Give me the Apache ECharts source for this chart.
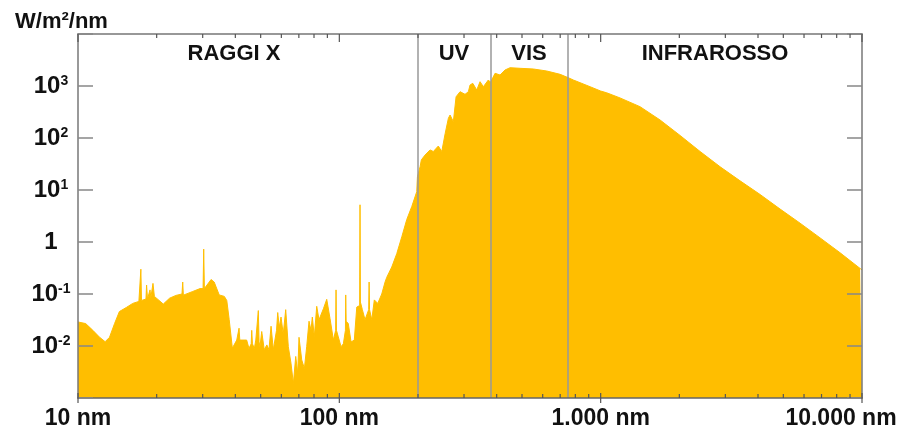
<!DOCTYPE html>
<html>
<head>
<meta charset="utf-8">
<script src="https://cdn.jsdelivr.net/npm/echarts@6/dist/echarts.min.js"></script>
<style>
  html, body { margin: 0; padding: 0; background: #fff; }
  #chart { width: 905px; height: 433px; }
</style>
</head>
<body>
<div id="chart"></div>
<script>
// spettro solare (nm, W/m2/nm)
// raggi X / EUV
const xrayNm = [10, 10.7, 11.4, 12.1, 12.7, 13.2, 13.8, 14.4, 15.3, 16.2, 17.1, 17.3, 17.4, 17.5, 17.7, 18.2, 18.3, 18.45, 18.65, 18.86, 19.0, 19.36, 19.6, 19.9,
  21.2, 22.4, 23.7, 25.0, 25.16, 25.3, 25.5, 27.5, 29.3, 30.1, 30.27, 30.45, 30.9, 32.3, 33.2, 34.7, 36.3, 37.1, 37.9, 38.96,
  40.5, 41.1, 41.33, 41.6, 42.3, 44.2, 45.1, 46.0, 46.22, 46.5, 47.3, 47.9, 48.7, 48.98, 49.3, 49.7, 50.47, 51.6, 52.8, 53.8, 54.79, 55.9,
  57.5, 58.11, 58.9, 59.82, 61.0, 62.35, 63.8, 65.3, 66.7, 68.1, 69.3, 70.1, 71.8, 73.5, 75.0, 76.56, 77.9, 78.83, 80.2, 81.94, 83.6,
  86.9, 89.5, 92.1, 94.9, 96.8, 97.14, 97.5, 99.1, 101.5, 103.6, 105.5, 105.8, 106.2, 108.2, 110.9, 114.1, 116.6, 119.6, 120.0, 120.4,
  122.5, 125.4, 129.5, 130.0, 130.5, 133.1, 136.1, 140.3, 145.3, 149.6, 151.9, 158.7, 165.9, 173.4, 181.1, 189.3, 197.8];
const xrayVal = [0.029, 0.027, 0.020, 0.0147, 0.0121, 0.0147, 0.027, 0.046, 0.055, 0.066, 0.072, 0.075, 0.30, 0.075, 0.075, 0.08, 0.149, 0.08, 0.083, 0.12, 0.085, 0.16, 0.09, 0.089,
  0.064, 0.083, 0.094, 0.10, 0.17, 0.095, 0.095, 0.112, 0.127, 0.127, 0.73, 0.127, 0.127, 0.19, 0.17, 0.096, 0.09, 0.075, 0.032, 0.0091,
  0.013, 0.013, 0.022, 0.013, 0.013, 0.013, 0.009, 0.011, 0.020, 0.011, 0.009, 0.013, 0.014, 0.048, 0.012, 0.0097, 0.019, 0.0085, 0.0105, 0.0085, 0.024, 0.0085,
  0.02, 0.044, 0.023, 0.036, 0.017, 0.050, 0.0097, 0.0047, 0.0019, 0.0063, 0.003, 0.0147, 0.0054, 0.0037, 0.0097, 0.030, 0.020, 0.036, 0.015, 0.058, 0.032,
  0.052, 0.079, 0.034, 0.013, 0.02, 0.12, 0.02, 0.015, 0.0097, 0.011, 0.02, 0.096, 0.03, 0.027, 0.012, 0.013, 0.056, 0.06, 5.2, 0.07,
  0.050, 0.032, 0.05, 0.17, 0.05, 0.032, 0.077, 0.066, 0.10, 0.17, 0.21, 0.33, 0.6, 1.26, 2.7, 4.8, 9.3];
// ultravioletto
const uvNm = [199, 203.7, 206, 212.8, 222.4, 228.9, 239.2, 246.6, 253.9, 261.4, 265.3, 269.3, 273.1, 274.8, 279.7, 281.4, 289.7, 294.1,
  302.7, 311.7, 316.4, 324.0, 325.7, 335.6, 345.5, 355.7, 371.7, 379];
const uvVal = [18, 28, 38, 47, 59, 55, 70, 55, 120, 240, 277, 277, 206, 192, 620, 580, 777, 724,
  692, 777, 1045, 1127, 1127, 838, 1210, 970, 1304, 1178];
// visibile
const visNm = [383, 394.4, 412.1, 430.6, 450.1, 491.6, 552.7, 621.9, 699.2, 750];
const visVal = [1178, 1755, 1627, 2031, 2249, 2190, 2123, 1942, 1679, 1450];
// infrarosso
const irNm = [786.4, 910.9, 1000, 1055, 1186, 1415, 1688, 2013, 2402, 2864, 3416, 4074, 4860, 5796, 6913, 8246, 9834, 10000];
const irVal = [1304, 970, 800, 740, 590, 400, 222, 112, 55, 28, 15, 8.2, 4.3, 2.3, 1.2, 0.62, 0.31, 0.29];

// confini delle bande (nm) e nomi
const bandLines = [200, 380, 750];
const bandNames = ['RAGGI X', 'UV', 'VIS', 'INFRAROSSO'];
const bandLabelX = [234, 454, 529, 715];

// tacche asse x
const majorTicksX = [10, 100, 1000, 10000];
const minorTicksX = [20, 30, 40, 50, 60, 70, 80, 90, 200, 300, 400, 500, 600, 700, 800, 900,
  2000, 3000, 4000, 5000, 6000, 7000, 8000, 9000];

const FONT = '"Liberation Sans", Arial, sans-serif';
const X_MIN = 10, X_MAX = 10000, Y_MIN = 0.001, Y_MAX = 10000;

const spectrum = [];
[[xrayNm, xrayVal], [uvNm, uvVal], [visNm, visVal], [irNm, irVal]].forEach(([xs, ys]) => {
  xs.forEach((x, i) => spectrum.push([x, ys[i]]));
});

const tickData = majorTicksX.map(v => [v, 1, 1]).concat(minorTicksX.map(v => [v, 1, 0]));

const myChart = echarts.init(document.getElementById('chart'));

function fmtX(v) {
  const s = String(Math.round(v)).replace(/\B(?=(\d{3})+(?!\d))/g, '.') + ' nm';
  return v >= 9999 ? '{last|' + s + '}' : s;
}
function fmtY(v) {
  const e = Math.round(Math.log10(v));
  if (e <= -3 || e >= 4) return '';
  if (e === 0) return '{b|1}';
  return '{b|10}{s|' + e + '}';
}

const yCommon = {
  type: 'log', min: Y_MIN, max: Y_MAX, splitNumber: 7, z: 10,
  splitLine: { show: false },
  axisLine: { show: true, lineStyle: { color: '#777', width: 1.5 } },
  axisTick: { show: true, inside: true, length: 15, lineStyle: { color: '#888', width: 1.5 } }
};

const option = {
  animation: false,
  title: {
    text: 'W/m²/nm', left: 10, top: 6,
    textStyle: { fontFamily: FONT, fontSize: 22, fontWeight: 'bold', color: '#111' }
  },
  grid: { left: 78, right: 43, top: 34, bottom: 35 },
  xAxis: [
    {
      type: 'log', min: X_MIN, max: X_MAX, splitNumber: 3, z: 10,
      splitLine: { show: false },
      axisLine: { show: true, lineStyle: { color: '#666', width: 1.5 } },
      axisTick: { show: false },
      axisLabel: {
        formatter: fmtX, margin: 9,
        fontFamily: FONT, fontSize: 23, fontWeight: 'bold', color: '#111',
        rich: { last: { fontFamily: FONT, fontSize: 23, fontWeight: 'bold', color: '#111', padding: [0, 42, 0, 0] } }
      }
    },
    {
      type: 'log', min: X_MIN, max: X_MAX, splitNumber: 3, position: 'top', z: 10,
      splitLine: { show: false },
      axisLine: { show: true, lineStyle: { color: '#777', width: 1.5 } },
      axisTick: { show: false },
      axisLabel: { show: false }
    }
  ],
  yAxis: [
    Object.assign({}, yCommon, {
      axisLabel: {
        formatter: fmtY, align: 'center', margin: 27,
        rich: {
          b: { fontFamily: FONT, fontSize: 24, fontWeight: 'bold', color: '#111' },
          s: { fontFamily: FONT, fontSize: 14, fontWeight: 'bold', color: '#111', verticalAlign: 'top' }
        }
      }
    }),
    Object.assign({}, yCommon, { position: 'right', axisLabel: { show: false } })
  ],
  graphic: bandNames.map((t, i) => ({
    type: 'text', x: bandLabelX[i], y: 54, z: 20,
    style: { text: t, align: 'center', verticalAlign: 'middle', font: 'bold 22px ' + FONT, fill: '#111' }
  })),
  series: [
    {
      name: 'spettro', type: 'line', data: spectrum,
      symbol: 'none', sampling: null,
      lineStyle: { color: '#FFBE00', width: 1 },
      itemStyle: { color: '#FFBE00' },
      areaStyle: { color: '#FFBE00', opacity: 1, origin: 'start' },
      markLine: {
        silent: true, symbol: ['none', 'none'],
        label: { show: false },
        lineStyle: { color: '#999', width: 1.5, type: 'solid' },
        data: bandLines.map(v => ({ xAxis: v }))
      },
      z: 2
    },
    {
      type: 'custom', silent: true, clip: false, z: 11,
      data: tickData,
      encode: { x: 0, y: 1 },
      renderItem: function (params, api) {
        const v = api.value(0), major = api.value(2);
        const b = api.coord([v, Y_MIN]), t = api.coord([v, Y_MAX]);
        const st = { stroke: '#555', lineWidth: 1.2 };
        const lines = major
          ? [[b[0], b[1] - 5, b[0], b[1] + 5], [t[0], t[1], t[0], t[1] + 8]]
          : [[b[0], b[1] - 4, b[0], b[1]], [t[0], t[1], t[0], t[1] + 4]];
        return {
          type: 'group',
          children: lines.map(l => ({ type: 'line', shape: { x1: l[0], y1: l[1], x2: l[2], y2: l[3] }, style: st }))
        };
      }
    }
  ]
};

myChart.setOption(option);
</script>
</body>
</html>
